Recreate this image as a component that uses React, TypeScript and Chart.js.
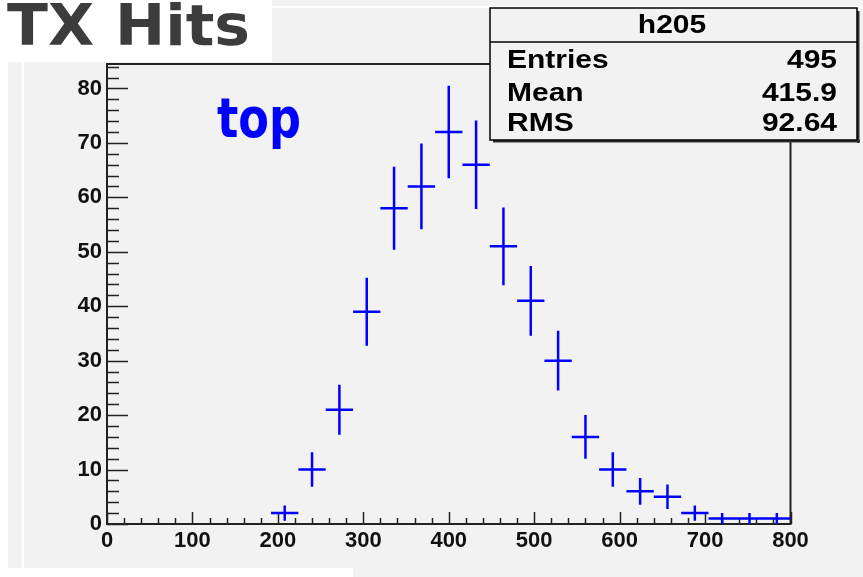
import { useEffect, useRef } from "react";
import { Chart, registerables } from "chart.js";

Chart.register(...registerables);

// Histogram h205: bin centres and bin contents (25 bins of width 32 on 0..800)
const binCenters = [208, 240, 272, 304, 336, 368, 400, 432, 464, 496, 528, 560, 592, 624, 656, 688, 720, 752, 784];
const binCounts = [2, 10, 21, 39, 58, 62, 72, 66, 51, 41, 30, 16, 10, 6, 5, 2, 1, 1, 1];
const binWidth = 32;

const xTickValues = [0, 100, 200, 300, 400, 500, 600, 700, 800];
const yTickValues = [0, 10, 20, 30, 40, 50, 60, 70, 80];
const xRange = [0, 800];
const yRange = [0, 84.5];

const histName = "h205";
const statLabels = ["Entries", "Mean", "RMS"];
const statValues = ["495", "415.9", "92.64"];
const titleClipped = "V";
const titleText = "TX Hits";
const padLabel = "top";

const W = 863;
const H = 577;
const GRAY = "#f2f2f2";
const AXIS = "#222222";
const LABEL_FAMILY = "'Liberation Sans', Arial, sans-serif";

// Each bin becomes a cross: a horizontal bar over the bin width and a vertical sqrt(N) error bar.
function buildCrosses() {
  const pts: { x: number; y: number | null }[] = [];
  binCenters.forEach((c, i) => {
    const v = binCounts[i];
    const e = Math.sqrt(v);
    pts.push({ x: c - binWidth / 2, y: v }, { x: c + binWidth / 2, y: v }, { x: c, y: null });
    pts.push({ x: c, y: v - e }, { x: c, y: v + e }, { x: c, y: null });
  });
  return pts;
}

const backgroundPlugin = {
  id: "rootCanvasBackground",
  beforeDraw(chart: any) {
    const ctx = chart.ctx;
    ctx.save();
    ctx.fillStyle = "#ffffff";
    ctx.fillRect(0, 0, W, H);
    ctx.fillStyle = GRAY;
    ctx.fillRect(8, 62, W - 8, 506);
    ctx.fillRect(353, 568, W - 353, H - 568);
    ctx.fillRect(272, 0, W - 272, 62);
    ctx.fillStyle = "#ffffff";
    ctx.fillRect(272, 6, W - 272, 2);
    ctx.fillRect(22, 62, 2, 506);
    ctx.restore();
  },
};

const framePlugin = {
  id: "rootFrame",
  beforeDatasetsDraw(chart: any) {
    const { ctx, chartArea, scales } = chart;
    const { left, right, top, bottom } = chartArea;
    const xs = scales.x;
    const ys = scales.y;
    ctx.save();
    ctx.strokeStyle = AXIS;
    ctx.lineWidth = 1.5;
    ctx.beginPath();
    // inward ticks on the y axis: major every 10, minor every 2
    for (let v = yRange[0]; v <= yRange[1]; v += 2) {
      const y = Math.round(ys.getPixelForValue(v)) + 0.5;
      const len = v % 10 === 0 ? 21 : 12;
      ctx.moveTo(left, y);
      ctx.lineTo(left + len, y);
    }
    // inward ticks on the x axis: major every 100, minor every 20
    for (let v = xRange[0]; v <= xRange[1]; v += 20) {
      const x = Math.round(xs.getPixelForValue(v)) + 0.5;
      const len = v % 100 === 0 ? 12 : 6;
      ctx.moveTo(x, bottom);
      ctx.lineTo(x, bottom - len);
    }
    ctx.stroke();
    ctx.lineWidth = 2;
    ctx.strokeRect(left, top, right - left, bottom - top);
    ctx.restore();
  },
};

// Text stretched horizontally to a given width, starting at x.
function drawToWidth(ctx: CanvasRenderingContext2D, text: string, x: number, y: number, width: number) {
  const s = width / ctx.measureText(text).width;
  ctx.save();
  ctx.translate(x, y);
  ctx.scale(s, 1);
  ctx.textAlign = "left";
  ctx.fillText(text, 0, 0);
  ctx.restore();
}

// Text with a fixed horizontal scale factor and alignment.
function drawScaled(ctx: CanvasRenderingContext2D, text: string, x: number, y: number, sx: number, align: CanvasTextAlign) {
  ctx.save();
  ctx.translate(x, y);
  ctx.scale(sx, 1);
  ctx.textAlign = align;
  ctx.fillText(text, 0, 0);
  ctx.restore();
}

const overlayPlugin = {
  id: "rootOverlay",
  afterDraw(chart: any) {
    const ctx = chart.ctx as CanvasRenderingContext2D;
    ctx.save();
    ctx.textBaseline = "alphabetic";

    // canvas title (white box, top-left), its first letter clipped by the edge
    ctx.fillStyle = "#3c3c3c";
    ctx.font = "bold 57px 'DejaVu Sans', sans-serif";
    const wV = ctx.measureText(titleClipped).width;
    ctx.textAlign = "left";
    ctx.fillText(titleClipped, -4 - wV, 45);
    drawToWidth(ctx, titleText, 7, 45, 243);

    // pad label
    ctx.fillStyle = "#0000ff";
    ctx.font = "bold 55px 'DejaVu Sans', sans-serif";
    drawToWidth(ctx, padLabel, 217, 136.5, 84);

    // statistics box
    const bx = 490, by = 8, bw = 367, bh = 132;
    ctx.fillStyle = "#333333";
    ctx.fillRect(bx + 3, by + bh, bw, 2.5);
    ctx.fillRect(bx + bw, by + 3, 2.5, bh);
    ctx.fillStyle = GRAY;
    ctx.fillRect(bx, by, bw, bh);
    ctx.strokeStyle = "#000000";
    ctx.lineWidth = 1.5;
    ctx.strokeRect(bx, by, bw, bh);
    ctx.beginPath();
    ctx.moveTo(bx, 42);
    ctx.lineTo(bx + bw, 42);
    ctx.stroke();

    ctx.fillStyle = "#000000";
    ctx.font = `bold 25px ${LABEL_FAMILY}`;
    drawScaled(ctx, histName, 672, 33, 1.2, "center");
    const baselines = [67.5, 101, 130.5];
    statLabels.forEach((lab, i) => {
      drawScaled(ctx, lab, 507, baselines[i], 1.2, "left");
      drawScaled(ctx, statValues[i], 837, baselines[i], 1.2, "right");
    });
    ctx.restore();
  },
};

export default function App() {
  const canvasRef = useRef<HTMLCanvasElement | null>(null);

  useEffect(() => {
    if (!canvasRef.current) return;
    const tickFont = { family: LABEL_FAMILY, size: 22, weight: "bold" as const };
    const chart = new Chart(canvasRef.current, {
      type: "scatter",
      data: {
        datasets: [
          {
            label: histName,
            data: buildCrosses() as any,
            showLine: true,
            spanGaps: false,
            borderColor: "#0000ff",
            borderWidth: 2.5,
            pointRadius: 0,
            pointHoverRadius: 0,
            borderCapStyle: "butt",
          } as any,
        ],
      },
      options: {
        responsive: false,
        animation: false,
        events: [],
        layout: { padding: { left: 0, top: 64, right: 72.5, bottom: 0 } },
        plugins: { legend: { display: false }, tooltip: { enabled: false } },
        scales: {
          x: {
            type: "linear",
            min: xRange[0],
            max: xRange[1],
            grid: { display: false, drawTicks: false },
            border: { display: false },
            afterFit: (s: any) => {
              s.height = 53;
            },
            afterBuildTicks: (s: any) => {
              s.ticks = xTickValues.map((v) => ({ value: v }));
            },
            ticks: {
              padding: 4,
              maxRotation: 0,
              autoSkip: false,
              color: "#111111",
              font: tickFont,
            },
          },
          y: {
            type: "linear",
            min: yRange[0],
            max: yRange[1],
            grid: { display: false, drawTicks: false },
            border: { display: false },
            afterFit: (s: any) => {
              s.width = 107;
            },
            afterBuildTicks: (s: any) => {
              s.ticks = yTickValues.map((v) => ({ value: v }));
            },
            ticks: {
              padding: 5,
              autoSkip: false,
              color: "#111111",
              font: tickFont,
            },
          },
        },
      },
      plugins: [backgroundPlugin, framePlugin, overlayPlugin],
    });
    return () => chart.destroy();
  }, []);

  return (
    <div style={{ position: "absolute", left: 0, top: 0, width: W, height: H }}>
      <canvas ref={canvasRef} width={W} height={H} style={{ display: "block", width: W, height: H }} />
    </div>
  );
}
